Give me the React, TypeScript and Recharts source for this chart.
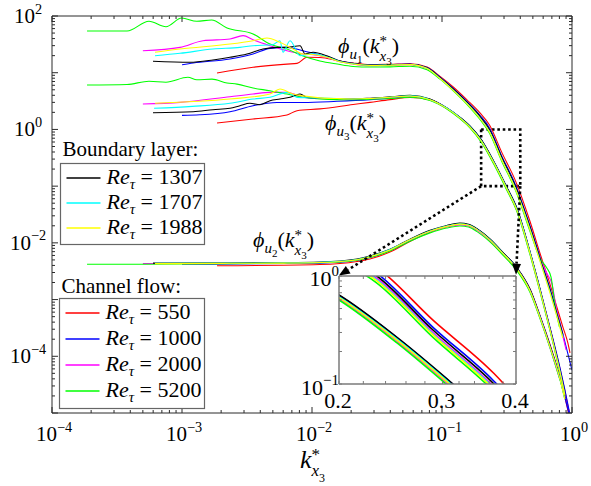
import React from 'react';
import { LineChart, Line, XAxis, YAxis, ReferenceArea, ReferenceLine } from 'recharts';

type Pt = [number, number];

// axis structure
const X_DECADES = [-4, -3, -2, -1, 0];
const Y_DECADES = [-5, -4, -3, -2, -1, 0, 1, 2];
const Y_LABELLED = [-4, -2, 0, 2];
const INSET_X_TICKS = [0.2, 0.22, 0.24, 0.26, 0.28, 0.3, 0.32, 0.34, 0.36, 0.38, 0.4];
const INSET_X_LABELS = [0.2, 0.3, 0.4];
const INSET_Y_DECADES = [-1, 0];

// boundary layer, Re_tau = 1307 (black)
const BL1307_U1: Pt[] = [[5.98e-4,15.9],[1.15e-3,15.3],[1.73e-3,16.8],[2.34e-3,18.7],[3.16e-3,21.4],[4.2e-3,26.2],[5.38e-3,28.0],[6.42e-3,28.0],[8.09e-3,29.9],[8.85e-3,21.4],[0.0102,22.9],[0.013,19.9],[0.0164,16.0],[0.0207,14.6],[0.028,13.6],[0.04,13.8],[0.0567,14.1],[0.0767,12.2],[0.0966,8.2],[0.122,5.2],[0.156,3.0],[0.196,1.7],[0.232,1.0],[0.289,0.316],[0.367,0.1],[0.475,0.019],[0.568,5.2e-3],[0.678,1.45e-3],[0.767,5.5e-4],[0.85,2.4e-4]];
const BL1307_U3: Pt[] = [[5.98e-4,1.97],[1.22e-3,2.05],[1.73e-3,2.23],[2.34e-3,2.36],[2.79e-3,2.62],[3.33e-3,2.89],[3.98e-3,2.73],[4.75e-3,3.2],[5.67e-3,3.43],[6.78e-3,3.68],[8.09e-3,4.21],[9.16e-3,3.68],[0.0115,3.55],[0.0156,3.5],[0.0207,3.45],[0.028,3.55],[0.0398,3.75],[0.0567,4.0],[0.0809,3.45],[0.109,2.4],[0.137,1.65],[0.164,1.15],[0.2,0.667],[0.251,0.27],[0.3125,0.1],[0.378,0.04],[0.475,7e-3],[0.568,1.5e-3],[0.678,3e-4],[0.809,5.5e-5],[0.88,2.2e-5]];
const BL1307_U2: Pt[] = [[5.98e-4,4.4e-3],[2e-3,4.45e-3],[6e-3,4.5e-3],[0.0115,4.6e-3],[0.0222,5.2e-3],[0.0279,5.85e-3],[0.0398,7.7e-3],[0.0567,0.0116],[0.0809,0.0166],[0.109,0.0203],[0.137,0.0223],[0.16,0.0212],[0.186,0.0178],[0.234,0.0117],[0.294,6.8e-3],[0.378,3.6e-3],[0.475,1.5e-3],[0.568,5e-4],[0.678,1.5e-4],[0.809,4e-5],[0.88,1.8e-5]];

// boundary layer, Re_tau = 1707 (cyan)
const BL1707_U1: Pt[] = [[6.2e-4,19.9],[9.66e-4,22.0],[1.73e-3,26.2],[2.79e-3,28.0],[3.52e-3,29.9],[5e-3,31.2],[5.67e-3,36.7],[5.98e-3,22.9],[6.78e-3,36.7],[8.09e-3,19.9],[0.0102,21.5],[0.013,19.0],[0.0164,15.8],[0.0207,14.4],[0.028,13.5],[0.04,13.7],[0.0567,14.0],[0.0767,12.0],[0.0966,7.9],[0.122,4.95],[0.156,2.85],[0.196,1.58],[0.232,0.92],[0.289,0.29],[0.367,0.091],[0.475,0.0175],[0.568,4.8e-3],[0.678,1.35e-3],[0.767,5e-4],[0.85,2.2e-4]];
const BL1707_U3: Pt[] = [[6.1e-4,2.36],[1.2e-3,2.55],[2.34e-3,2.89],[3.52e-3,3.43],[4.75e-3,3.7],[6.42e-3,4.5],[7.67e-3,3.68],[0.0102,3.6],[0.0156,3.5],[0.0207,3.45],[0.028,3.5],[0.0398,3.7],[0.0567,3.9],[0.0809,3.35],[0.109,2.38],[0.137,1.62],[0.164,1.12],[0.2,0.64],[0.251,0.26],[0.3125,0.096],[0.378,0.038],[0.475,6.8e-3],[0.568,1.45e-3],[0.678,2.9e-4],[0.809,5.3e-5],[0.88,2.1e-5]];
const BL1707_U2: Pt[] = [[6.2e-4,4.35e-3],[2e-3,4.4e-3],[6e-3,4.45e-3],[0.0115,4.55e-3],[0.0222,5.1e-3],[0.0279,5.75e-3],[0.0398,7.6e-3],[0.0567,0.0114],[0.0809,0.0162],[0.109,0.0198],[0.137,0.0217],[0.16,0.0207],[0.186,0.0173],[0.234,0.0114],[0.294,6.6e-3],[0.378,3.5e-3],[0.475,1.45e-3],[0.568,4.9e-4],[0.678,1.45e-4],[0.809,3.9e-5],[0.88,1.75e-5]];

// boundary layer, Re_tau = 1988 (yellow)
const BL1988_U1: Pt[] = [[6.2e-4,22.9],[9.66e-4,26.2],[2.34e-3,32.0],[3.52e-3,36.7],[4.5e-3,40.9],[5.67e-3,34.4],[7.14e-3,26.2],[8.53e-3,21.4],[0.0102,21.0],[0.013,18.8],[0.0164,15.6],[0.0207,14.2],[0.028,13.4],[0.04,13.6],[0.0567,13.9],[0.0767,11.9],[0.0966,7.9],[0.122,4.9],[0.156,2.82],[0.196,1.56],[0.232,0.9],[0.289,0.285],[0.367,0.089],[0.475,0.017],[0.568,4.7e-3],[0.678,1.3e-3],[0.767,4.9e-4],[0.85,2.1e-4]];
const BL1988_U3: Pt[] = [[6.2e-4,2.89],[2.34e-3,3.43],[4.75e-3,4.21],[5.67e-3,5.17],[7.14e-3,4.21],[8.53e-3,3.9],[0.0115,3.6],[0.0156,3.5],[0.0207,3.45],[0.028,3.5],[0.0398,3.7],[0.0567,3.88],[0.0809,3.35],[0.109,2.35],[0.137,1.6],[0.164,1.1],[0.2,0.63],[0.251,0.255],[0.3125,0.094],[0.378,0.037],[0.475,6.6e-3],[0.568,1.42e-3],[0.678,2.9e-4],[0.809,5.2e-5],[0.88,2.1e-5]];
const BL1988_U2: Pt[] = [[6.2e-4,4.3e-3],[2e-3,4.35e-3],[6e-3,4.4e-3],[0.0115,4.5e-3],[0.0222,5.05e-3],[0.0279,5.7e-3],[0.0398,7.5e-3],[0.0567,0.0113],[0.0809,0.016],[0.109,0.0195],[0.137,0.0214],[0.16,0.0204],[0.186,0.0171],[0.234,0.0112],[0.294,6.5e-3],[0.378,3.45e-3],[0.475,1.43e-3],[0.568,4.8e-4],[0.678,1.45e-4],[0.809,3.9e-5],[0.88,1.75e-5]];

// channel, Re_tau = 550 (red)
const CF550_U1: Pt[] = [[1.86e-3,9.9],[3.52e-3,12.5],[6.42e-3,14.2],[7.67e-3,14.6],[9.16e-3,18.7],[0.0115,18.6],[0.0164,16.0],[0.0207,14.8],[0.028,13.9],[0.04,14.1],[0.0567,14.4],[0.0767,12.6],[0.0966,8.6],[0.122,5.6],[0.156,3.3],[0.196,1.95],[0.232,1.2],[0.289,0.39],[0.367,0.125],[0.475,0.024],[0.568,6.5e-3],[0.678,1.85e-3],[0.767,7.2e-4],[0.85,3.3e-4],[0.93,1.7e-4],[0.965,1.15e-4]];
const CF550_U3: Pt[] = [[1.86e-3,1.3],[3.52e-3,1.53],[6.42e-3,1.8],[7.67e-3,2.14],[0.0115,2.3],[0.0207,2.75],[0.0279,3.0],[0.0398,3.35],[0.0567,3.65],[0.0809,3.3],[0.109,2.36],[0.137,1.62],[0.164,1.12],[0.2,0.65],[0.251,0.262],[0.3125,0.097],[0.378,0.039],[0.475,6.9e-3],[0.568,1.5e-3],[0.678,3.1e-4],[0.809,6e-5],[0.88,2.5e-5],[0.95,1.05e-5]];
const CF550_U2: Pt[] = [[1.86e-3,3.95e-3],[0.0115,4.15e-3],[0.0222,4.7e-3],[0.0279,5.2e-3],[0.0398,6.9e-3],[0.0567,0.0106],[0.0809,0.0155],[0.109,0.0195],[0.137,0.0215],[0.16,0.0207],[0.186,0.0174],[0.234,0.0115],[0.294,6.7e-3],[0.378,3.6e-3],[0.475,1.55e-3],[0.568,5.2e-4],[0.678,1.6e-4],[0.809,4.2e-5],[0.95,9e-6]];

// channel, Re_tau = 1000 (blue)
const CF1000_U1: Pt[] = [[1e-3,13.8],[1.22e-3,14.8],[2.34e-3,17.5],[3.52e-3,21.4],[4.75e-3,26.9],[6.42e-3,28.0],[8.53e-3,24.4],[0.0102,22.0],[0.013,19.2],[0.0164,16.0],[0.0207,14.6],[0.028,13.7],[0.04,13.9],[0.0567,14.2],[0.0767,12.3],[0.0966,8.3],[0.122,5.3],[0.156,3.1],[0.196,1.78],[0.232,1.06],[0.289,0.335],[0.367,0.106],[0.475,0.02],[0.568,5.6e-3],[0.678,1.55e-3],[0.767,6e-4],[0.85,2.5e-4],[0.93,1.1e-4],[1.0,5.7e-5]];
const CF1000_U3: Pt[] = [[1e-3,1.77],[1.37e-3,1.81],[2.34e-3,2.05],[3.52e-3,2.62],[5.38e-3,2.98],[8.53e-3,2.98],[0.0156,3.13],[0.0279,3.35],[0.0398,3.55],[0.0567,3.8],[0.0809,3.38],[0.109,2.4],[0.137,1.64],[0.164,1.14],[0.2,0.66],[0.251,0.268],[0.3125,0.099],[0.378,0.04],[0.475,7e-3],[0.568,1.55e-3],[0.678,3.2e-4],[0.809,6.2e-5],[0.88,2.6e-5],[0.96,1e-5]];
const CF1000_U2: Pt[] = [[1e-3,4.2e-3],[0.0115,4.4e-3],[0.0222,4.95e-3],[0.0279,5.5e-3],[0.0398,7.3e-3],[0.0567,0.011],[0.0809,0.0158],[0.109,0.0197],[0.137,0.0217],[0.16,0.0208],[0.186,0.0175],[0.234,0.0115],[0.294,6.7e-3],[0.378,3.6e-3],[0.475,1.52e-3],[0.568,5.1e-4],[0.678,1.55e-4],[0.809,4.1e-5],[0.95,9.5e-6]];

// channel, Re_tau = 2000 (magenta)
const CF2000_U1: Pt[] = [[5e-4,24.4],[9.66e-4,28.0],[1.45e-3,36.7],[2.34e-3,39.3],[2.95e-3,45.0],[3.52e-3,38.0],[4.75e-3,29.9],[6.42e-3,24.4],[8.53e-3,21.4],[0.0102,20.8],[0.013,18.6],[0.0164,15.6],[0.0207,14.2],[0.028,13.3],[0.04,13.5],[0.0567,13.8],[0.0767,11.9],[0.0966,8.0],[0.122,5.0],[0.156,2.9],[0.196,1.62],[0.232,0.95],[0.289,0.3],[0.367,0.094],[0.475,0.018],[0.568,5.3e-3],[0.64,2.9e-3],[0.7,1.9e-3],[0.767,6e-4],[0.85,2.3e-4],[0.9,1.3e-4]];
const CF2000_U3: Pt[] = [[5e-4,2.8],[9.66e-4,3.0],[2.34e-3,3.77],[3.52e-3,4.21],[4.75e-3,4.5],[6.42e-3,4.5],[8.53e-3,3.7],[0.0115,3.5],[0.0156,3.45],[0.0207,3.42],[0.028,3.48],[0.0398,3.65],[0.0567,3.85],[0.0809,3.3],[0.109,2.33],[0.137,1.58],[0.164,1.09],[0.2,0.62],[0.251,0.25],[0.3125,0.092],[0.378,0.036],[0.475,6.5e-3],[0.568,1.4e-3],[0.678,2.9e-4],[0.809,5.2e-5]];
const CF2000_U2: Pt[] = [[5e-4,4.3e-3],[2e-3,4.35e-3],[6e-3,4.4e-3],[0.0115,4.5e-3],[0.0222,5.0e-3],[0.0279,5.6e-3],[0.0398,7.4e-3],[0.0567,0.0111],[0.0809,0.0157],[0.109,0.019],[0.137,0.0207],[0.16,0.0198],[0.186,0.0166],[0.234,0.0109],[0.294,6.3e-3],[0.378,3.35e-3],[0.475,1.4e-3],[0.568,4.7e-4],[0.678,1.4e-4],[0.809,3.8e-5]];

// channel, Re_tau = 5200 (green)
const CF5200_U1: Pt[] = [[1.86e-4,54.4],[3.78e-4,54.4],[5.57e-4,80.7],[7.53e-4,64.7],[9.95e-4,92.0],[1.3e-3,80.7],[1.69e-3,85.0],[2.22e-3,61.4],[3.52e-3,48.2],[4.75e-3,32.0],[6.42e-3,26.2],[8.53e-3,19.7],[0.0115,16.1],[0.0156,14.2],[0.0207,12.9],[0.028,12.6],[0.04,12.7],[0.0567,13.0],[0.0767,11.3],[0.0966,7.7],[0.122,4.8],[0.156,2.75],[0.196,1.5],[0.232,0.86],[0.289,0.27],[0.367,0.085],[0.475,0.016],[0.568,5.3e-3],[0.64,3.6e-3],[0.69,2.5e-3],[0.74,8e-4],[0.8,3.3e-4]];
const CF5200_U3: Pt[] = [[1.86e-4,6.07],[3.78e-4,6.2],[5.57e-4,7.05],[7.53e-4,6.8],[1.11e-3,8.3],[1.3e-3,7.5],[1.7e-3,7.7],[2.22e-3,6.6],[2.65e-3,6.3],[3.52e-3,5.37],[4.75e-3,4.8],[6.42e-3,4.2],[8.53e-3,3.7],[0.0115,3.43],[0.0156,3.35],[0.0207,3.35],[0.028,3.4],[0.0398,3.5],[0.0567,3.7],[0.0809,3.25],[0.109,2.3],[0.137,1.55],[0.164,1.07],[0.2,0.6],[0.251,0.24],[0.3125,0.088],[0.378,0.035],[0.475,6.2e-3],[0.568,1.35e-3],[0.678,2.8e-4],[0.809,5e-5]];
const CF5200_U2: Pt[] = [[1.86e-4,4.2e-3],[3.78e-4,4.2e-3],[1e-3,4.25e-3],[0.0115,4.45e-3],[0.0222,4.95e-3],[0.0279,5.5e-3],[0.0398,7.2e-3],[0.0567,0.0107],[0.0809,0.015],[0.109,0.0183],[0.137,0.0198],[0.16,0.019],[0.186,0.0158],[0.234,0.0104],[0.294,6.1e-3],[0.378,3.2e-3],[0.475,1.35e-3],[0.568,4.6e-4],[0.678,1.4e-4],[0.809,3.8e-5],[0.88,2e-5]];

const BL_SERIES = [
  { id: 'bl1307', re: '1307', color: '#000000', u1: BL1307_U1, u3: BL1307_U3, u2: BL1307_U2 },
  { id: 'bl1707', re: '1707', color: '#00ffff', u1: BL1707_U1, u3: BL1707_U3, u2: BL1707_U2 },
  { id: 'bl1988', re: '1988', color: '#ffff00', u1: BL1988_U1, u3: BL1988_U3, u2: BL1988_U2 },
];
const CF_SERIES = [
  { id: 'cf550', re: '550', color: '#ff0000', u1: CF550_U1, u3: CF550_U3, u2: CF550_U2 },
  { id: 'cf1000', re: '1000', color: '#0000ff', u1: CF1000_U1, u3: CF1000_U3, u2: CF1000_U2 },
  { id: 'cf2000', re: '2000', color: '#ff00ff', u1: CF2000_U1, u3: CF2000_U3, u2: CF2000_U2 },
  { id: 'cf5200', re: '5200', color: '#00ff00', u1: CF5200_U1, u3: CF5200_U3, u2: CF5200_U2 },
];
const COMPONENTS = ['u1', 'u3', 'u2'] as const;

// zoom box and where the inset sits (in main-chart data coordinates)
const ZOOM_BOX = { x1: 0.2, x2: 0.4, y1: 0.1, y2: 1 };
const INSET_CORNER_L = { x: 0.0161, y: 2.65e-3 };
const INSET_CORNER_R = { x: 0.371, y: 2.75e-3 };

const SERIF = "'Liberation Serif', 'Times New Roman', serif";
const AXIS = '#2b2b2b';
const INSET_AXIS = '#7a7a7a';
const MAIN = { w: 591, h: 486, left: 52, top: 16, right: 19, bottom: 73 };
const INSET = { left: 339, top: 276, width: 177, height: 108 };
const INSET_PAD = { left: 60, top: 20, right: 20, bottom: 34 };

const toPts = (a: Pt[]) => a.map(([x, y]) => ({ x, y }));
const logTicks = (decades: number[]) => {
  const out: number[] = [];
  decades.forEach((d, i) => {
    if (i === decades.length - 1) out.push(Math.pow(10, d));
    else for (let m = 1; m < 10; m++) out.push(m * Math.pow(10, d));
  });
  return out;
};
const exp10 = (v: number) => Math.round(Math.log10(v));
const isDecade = (v: number) => Math.abs(Math.log10(v) - exp10(v)) < 1e-6;

function Pow10({ x, y, exp, anchor, size = 21 }: { x: number; y: number; exp: number; anchor: 'start' | 'middle' | 'end'; size?: number }) {
  return (
    <text x={x} y={y} textAnchor={anchor} fontFamily={SERIF} fontSize={size} fill="#000">
      10
      <tspan fontSize={size * 0.68} dy={-size * 0.45}>{exp < 0 ? `\u2212${-exp}` : `${exp}`}</tspan>
    </text>
  );
}

type TickProps = { x: number; y: number; payload: { value: number } };

const mainTick = (side: 'bottom' | 'top' | 'left' | 'right') => (p: TickProps) => {
  const v = p.payload.value;
  const major = isDecade(v);
  const len = major ? 6 : 3;
  const { x, y } = p;
  let line;
  if (side === 'bottom') line = <line x1={x} x2={x} y1={y} y2={y - len} stroke={AXIS} />;
  else if (side === 'top') line = <line x1={x} x2={x} y1={y} y2={y + len} stroke={AXIS} />;
  else if (side === 'left') line = <line x1={x} x2={x + len} y1={y} y2={y} stroke={AXIS} />;
  else line = <line x1={x} x2={x - len} y1={y} y2={y} stroke={AXIS} />;
  let label = null;
  if (side === 'bottom' && major) label = <Pow10 x={x + 2} y={y + 28} exp={exp10(v)} anchor="middle" />;
  if (side === 'left' && major && Y_LABELLED.includes(exp10(v))) label = <Pow10 x={28} y={y + 7} exp={exp10(v)} anchor="middle" />;
  return <g>{line}{label}</g>;
};

const insetTick = (side: 'bottom' | 'top' | 'left' | 'right') => (p: TickProps) => {
  const v = p.payload.value;
  const { x, y } = p;
  const len = 3;
  let line;
  if (side === 'bottom') line = <line x1={x} x2={x} y1={y} y2={y - len} stroke={INSET_AXIS} />;
  else if (side === 'top') line = <line x1={x} x2={x} y1={y} y2={y + len} stroke={INSET_AXIS} />;
  else if (side === 'left') line = <line x1={x} x2={x + len} y1={y} y2={y} stroke={INSET_AXIS} />;
  else line = <line x1={x} x2={x - len} y1={y} y2={y} stroke={INSET_AXIS} />;
  let label = null;
  if (side === 'bottom' && INSET_X_LABELS.some((t) => Math.abs(t - v) < 1e-9))
    label = <text x={x - 1} y={y + 24} textAnchor="middle" fontFamily={SERIF} fontSize={22}>{v.toFixed(1)}</text>;
  if (side === 'left' && isDecade(v)) label = <Pow10 x={x} y={y + (exp10(v) < 0 ? 11 : 10)} exp={exp10(v)} anchor="end" size={22} />;
  return <g>{line}{label}</g>;
};

const DottedArrow = (p: any) => {
  const { x1, y1, x2, y2 } = p;
  const a = Math.atan2(y2 - y1, x2 - x1);
  const L = 11;
  const W = 4.5;
  const bx = x2 - L * Math.cos(a);
  const by = y2 - L * Math.sin(a);
  const pts = `${x2},${y2} ${bx + W * Math.sin(a)},${by - W * Math.cos(a)} ${bx - W * Math.sin(a)},${by + W * Math.cos(a)}`;
  return (
    <g>
      <line x1={x1} y1={y1} x2={bx} y2={by} stroke="#000" strokeWidth={2.6} strokeDasharray="2.6 2.8" />
      <polygon points={pts} fill="#000" />
    </g>
  );
};

function PhiLabel({ x, y, comp }: { x: number; y: number; comp: string }) {
  return (
    <text x={x} y={y} fontFamily={SERIF} fontSize={22} fill="#000">
      <tspan fontStyle="italic">{'\u03d5'}</tspan>
      <tspan fontStyle="italic" fontSize={15} dy={6}>u</tspan>
      <tspan fontSize={11} dy={4}>{comp}</tspan>
      <tspan dy={-10}>(</tspan>
      <tspan fontStyle="italic">k</tspan>
      <tspan fontSize={15} dy={-7}>*</tspan>
      <tspan fontStyle="italic" fontSize={15} dx={-7.5} dy={15}>x</tspan>
      <tspan fontSize={11} dy={4}>3</tspan>
      <tspan dy={-12}>)</tspan>
    </text>
  );
}

function LegendBlock({ title, titleY, box, rowY, rowStep, items }: {
  title: string; titleY: number; box: { x: number; y: number; w: number; h: number };
  rowY: number; rowStep: number; items: { id: string; re: string; color: string }[];
}) {
  return (
    <g>
      <text x={box.x + 2} y={titleY} fontFamily={SERIF} fontSize={21}>{title}</text>
      <rect x={box.x} y={box.y} width={box.w} height={box.h} fill="#fff" stroke="#666" strokeWidth={1.2} />
      {items.map((s, i) => {
        const cy = rowY + i * rowStep;
        return (
          <g key={s.id}>
            <line x1={box.x + 6} x2={box.x + 40} y1={cy} y2={cy} stroke={s.color} strokeWidth={1.3} />
            <text x={box.x + 46} y={cy + 6} fontFamily={SERIF} fontSize={22}>
              <tspan fontStyle="italic">Re</tspan>
              <tspan fontStyle="italic" fontSize={15} dy={5}>{'\u03c4'}</tspan>
              <tspan dy={-5}>{`\u00a0= ${s.re}`}</tspan>
            </text>
          </g>
        );
      })}
    </g>
  );
}

export default function App() {
  const drawOrder = [...CF_SERIES, ...BL_SERIES];
  const xTicks = logTicks(X_DECADES);
  const yTicks = logTicks(Y_DECADES);
  const insetYTicks = logTicks(INSET_Y_DECADES);

  const lines = (width: number) =>
    drawOrder.flatMap((s) =>
      COMPONENTS.map((c) => (
        <Line
          key={`${s.id}-${c}`}
          data={toPts(s[c])}
          dataKey="y"
          type="monotone"
          stroke={s.color}
          strokeWidth={width}
          dot={false}
          activeDot={false}
          isAnimationActive={false}
        />
      ))
    );

  // axes take 1px each so that Recharts still draws them
  return (
    <div style={{ position: 'absolute', left: 0, top: 0, width: MAIN.w, height: MAIN.h, background: '#fff' }}>
      <LineChart
        width={MAIN.w}
        height={MAIN.h}
        margin={{ top: MAIN.top - 1, right: MAIN.right - 1, bottom: MAIN.bottom - 1, left: MAIN.left - 1 }}
      >
        <XAxis dataKey="x" type="number" scale="log" domain={[1e-4, 1]} allowDataOverflow ticks={xTicks} interval={0}
          height={1} tickSize={0} tickMargin={0} tickLine={false} stroke={AXIS} tick={mainTick('bottom')} />
        <XAxis xAxisId="top" orientation="top" dataKey="x" type="number" scale="log" domain={[1e-4, 1]} allowDataOverflow
          ticks={xTicks} interval={0} height={1} tickSize={0} tickMargin={0} tickLine={false} stroke={AXIS} tick={mainTick('top')} />
        <YAxis type="number" scale="log" domain={[1e-5, 100]} allowDataOverflow ticks={yTicks} interval={0}
          width={1} tickSize={0} tickMargin={0} tickLine={false} stroke={AXIS} tick={mainTick('left')} />
        <YAxis yAxisId="right" orientation="right" type="number" scale="log" domain={[1e-5, 100]} allowDataOverflow
          ticks={yTicks} interval={0} width={1} tickSize={0} tickMargin={0} tickLine={false} stroke={AXIS} tick={mainTick('right')} />
        {lines(1.1)}
        <ReferenceArea x1={ZOOM_BOX.x1} x2={ZOOM_BOX.x2} y1={ZOOM_BOX.y1} y2={ZOOM_BOX.y2} fill="none"
          stroke="#000" strokeWidth={2.6} strokeDasharray="2.6 2.8" />
        <ReferenceLine segment={[{ x: ZOOM_BOX.x1, y: ZOOM_BOX.y1 }, INSET_CORNER_L]} shape={DottedArrow} />
        <ReferenceLine segment={[{ x: ZOOM_BOX.x2, y: ZOOM_BOX.y1 }, INSET_CORNER_R]} shape={DottedArrow} />
      </LineChart>

      <div style={{ position: 'absolute', left: INSET.left, top: INSET.top, width: INSET.width, height: INSET.height, background: '#fff' }} />
      <div style={{ position: 'absolute', left: INSET.left - INSET_PAD.left, top: INSET.top - INSET_PAD.top }}>
        <LineChart
          width={INSET.width + INSET_PAD.left + INSET_PAD.right}
          height={INSET.height + INSET_PAD.top + INSET_PAD.bottom}
          margin={{ top: INSET_PAD.top - 1, right: INSET_PAD.right - 1, bottom: INSET_PAD.bottom - 1, left: INSET_PAD.left - 1 }}
        >
          <XAxis dataKey="x" type="number" scale="log" domain={[0.2, 0.4]} allowDataOverflow ticks={INSET_X_TICKS} interval={0}
            height={1} tickSize={0} tickMargin={0} tickLine={false} stroke={INSET_AXIS} strokeWidth={1.5} tick={insetTick('bottom')} />
          <XAxis xAxisId="top" orientation="top" dataKey="x" type="number" scale="log" domain={[0.2, 0.4]} allowDataOverflow
            ticks={INSET_X_TICKS} interval={0} height={1} tickSize={0} tickMargin={0} tickLine={false} stroke={INSET_AXIS} strokeWidth={1.5} tick={insetTick('top')} />
          <YAxis type="number" scale="log" domain={[0.1, 1]} allowDataOverflow ticks={insetYTicks} interval={0}
            width={1} tickSize={0} tickMargin={0} tickLine={false} stroke={INSET_AXIS} strokeWidth={1.5} tick={insetTick('left')} />
          <YAxis yAxisId="right" orientation="right" type="number" scale="log" domain={[0.1, 1]} allowDataOverflow
            ticks={insetYTicks} interval={0} width={1} tickSize={0} tickMargin={0} tickLine={false} stroke={INSET_AXIS} strokeWidth={1.5} tick={insetTick('right')} />
          {lines(1.6)}
        </LineChart>
      </div>

      <svg width={MAIN.w} height={MAIN.h} style={{ position: 'absolute', left: 0, top: 0, pointerEvents: 'none' }}>
        <PhiLabel x={338} y={53} comp="1" />
        <PhiLabel x={325} y={130} comp="3" />
        <PhiLabel x={253} y={247} comp="2" />
        <LegendBlock title="Boundary layer:" titleY={156} box={{ x: 60.5, y: 163.5, w: 144, h: 81 }}
          rowY={178} rowStep={25} items={BL_SERIES} />
        <LegendBlock title="Channel flow:" titleY={293} box={{ x: 59.5, y: 298.5, w: 145, h: 110 }}
          rowY={313} rowStep={26} items={CF_SERIES} />
        <text x={300} y={468} fontFamily={SERIF} fontSize={26}>
          <tspan fontStyle="italic">k</tspan>
          <tspan fontSize={17} dy={-8}>*</tspan>
          <tspan fontStyle="italic" fontSize={17} dx={-8.5} dy={16}>x</tspan>
          <tspan fontSize={12} dy={6}>3</tspan>
        </text>
      </svg>
    </div>
  );
}
